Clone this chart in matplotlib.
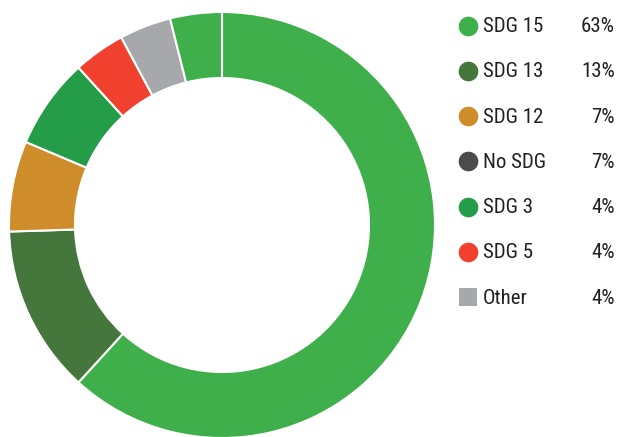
import matplotlib
matplotlib.use('Agg')
import matplotlib.pyplot as plt
from matplotlib.font_manager import fontManager

# legend entries
labels = ['SDG 15', 'SDG 13', 'SDG 12', 'No SDG', 'SDG 3', 'SDG 5', 'Other']
shares = [63, 13, 7, 7, 4, 4, 4]
legend_colors = ['#3eaf4a', '#45763b', '#cf8c2a', '#4b4b4d', '#259c48', '#ef412e', '#a7a8ab']
legend_markers = ['o', 'o', 'o', 'o', 'o', 'o', 's']

# the ring is coloured with a shifted palette in the source chart
slice_colors = ['#3eaf4a', '#45763b', '#cf8c2a', '#259c48', '#ef412e', '#a7a8ab', '#3eaf4a']

# want a condensed face if there is one
names = {f.name for f in fontManager.ttflist}
cond = {f.name for f in fontManager.ttflist if 'condensed' in str(f.stretch)}
font = 'Roboto'
for cand in ['Liberation Sans Narrow', 'Roboto Condensed', 'Open Sans Condensed', 'Noto Sans Condensed']:
    if cand in names:
        font = cand
        break
stretch = 'normal'
if font == 'Roboto':
    for cand in ['Roboto', 'Noto Sans', 'Open Sans']:
        if cand in cond:
            font, stretch = cand, 'condensed'
            break
plt.rcParams['font.family'] = [font, 'DejaVu Sans']

fig = plt.figure(figsize=(6.18, 4.37), dpi=100)
ax = fig.add_axes([0, 0, 1, 1])

# y axis runs downward, so the pie direction is flipped too
ax.pie(shares, colors=slice_colors, startangle=-90, counterclock=True,
       center=(222, 225), radius=213, frame=True,
       wedgeprops=dict(width=66, edgecolor='white', linewidth=1.5))
ax.set_xlim(0, 618)
ax.set_ylim(437, 0)
ax.set_aspect('equal')
ax.axis('off')

row0, step = 25.5, 45.3
for i, (lab, sh) in enumerate(zip(labels, shares)):
    y = row0 + i * step
    ax.scatter([468], [y], s=200 if legend_markers[i] == 'o' else 180,
               marker=legend_markers[i], color=legend_colors[i], linewidths=0)
    ax.text(483, y + 1, lab, fontsize=15, color='#231f20', va='center', ha='left',
            fontstretch=stretch)
    ax.text(615, y + 1, f'{sh}%', fontsize=15, color='#231f20', va='center', ha='right',
            fontstretch=stretch)

fig.savefig('out.png', dpi=100)
plt.close(fig)
